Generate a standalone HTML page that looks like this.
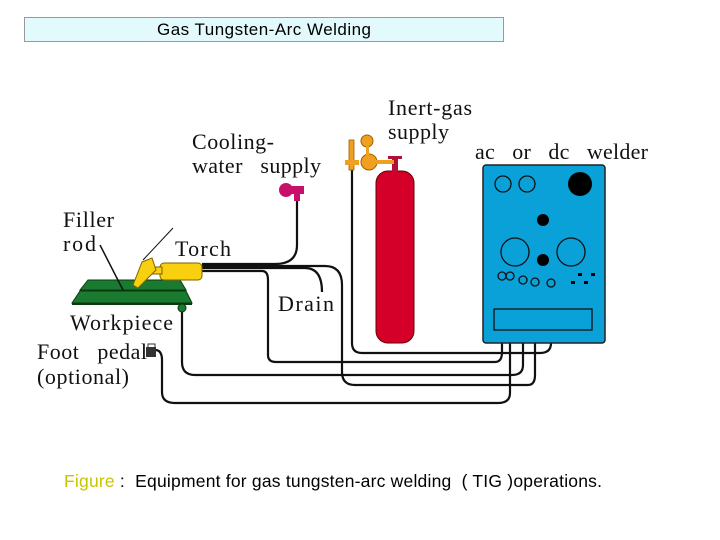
<!DOCTYPE html>
<html><head><meta charset="utf-8"><style>
body{margin:0;background:#fff;}
svg{display:block}
.s{font-family:"Liberation Serif",serif;font-size:22px;fill:#111;white-space:pre}
</style></head><body>
<svg width="720" height="540" viewBox="0 0 720 540" xmlns="http://www.w3.org/2000/svg">
<rect x="24.5" y="17.5" width="479" height="24" fill="#e2fafc" stroke="#999"/>
<text x="157" y="35" textLength="214" font-family="Liberation Sans,sans-serif" font-size="17" fill="#000">Gas Tungsten-Arc Welding</text>

<g fill="none" stroke="#111" stroke-width="2.2">
<path d="M297 200 V245 Q297 264 275 264 H202"/>
<path d="M202 268 H305 Q322 268 322 292"/>
<path d="M202 271 H262 Q268 271 268 280 V355 Q268 362 276 362 H495 Q502 362 502 352 V277"/>
<path d="M202 266 H325 Q342 266 342 285 V372 Q342 385 355 385 H528 Q535 385 535 375 V282"/>
<path d="M182 308 V362 Q182 375 195 375 H512 Q523 375 523 365 V282"/>
<path d="M155 350 Q162 350 162 360 V392 Q162 403 175 403 H498 Q510 403 510 393 V277"/>
<path d="M352 170 V343 Q352 353 362 353 H540 Q551 353 551 343 V283"/>
</g>

<rect x="483" y="165" width="122" height="178" rx="3" fill="#0aa0d8" stroke="#222" stroke-width="1.5"/>
<g fill="none" stroke="#111" stroke-width="1.3">
<circle cx="503" cy="184" r="8"/><circle cx="527" cy="184" r="8"/>
<circle cx="515" cy="252" r="14"/><circle cx="571" cy="252" r="14"/>
<rect x="494" y="309" width="98" height="21"/>
<circle cx="502" cy="276" r="4" fill="#0aa0d8"/><circle cx="510" cy="276" r="4" fill="#0aa0d8"/>
<circle cx="523" cy="280" r="4" fill="#0aa0d8"/><circle cx="535" cy="282" r="4" fill="#0aa0d8"/>
<circle cx="551" cy="283" r="4" fill="#0aa0d8"/>
</g>
<circle cx="580" cy="184" r="12" fill="#000"/>
<circle cx="543" cy="220" r="6" fill="#000"/><circle cx="543" cy="260" r="6" fill="#000"/>
<rect x="578" y="273" width="4" height="3" fill="#000"/><rect x="591" y="273" width="4" height="3" fill="#000"/>
<rect x="571" y="281" width="4" height="3" fill="#000"/><rect x="584" y="281" width="4" height="3" fill="#000"/>

<rect x="376" y="171" width="38" height="172" rx="12" fill="#d4002a" stroke="#600" stroke-width="1"/>
<rect x="392" y="158" width="6" height="14" fill="#b0103a"/>
<rect x="388" y="156" width="14" height="3" fill="#b0103a"/>
<rect x="349" y="140" width="5" height="30" fill="#f0a020" stroke="#a06000" stroke-width=".8"/>
<rect x="345" y="160" width="14" height="5" fill="#f0a020"/>
<circle cx="369" cy="162" r="8" fill="#f0a020" stroke="#a06000"/>
<circle cx="367" cy="141" r="6" fill="#f0a020" stroke="#a06000"/>
<rect x="366" y="146" width="3" height="9" fill="#f0a020"/>
<rect x="376" y="160" width="18" height="4" fill="#f0a020"/>
<circle cx="286" cy="190" r="7" fill="#c8106a"/>
<rect x="290" y="186" width="14" height="8" fill="#c8106a"/>
<rect x="294" y="194" width="6" height="7" fill="#c8106a"/>
<polygon points="80,290 88,280 180,280 186,290" fill="#1a7a30" stroke="#0a3a10"/>
<polygon points="72,303 80,291 186,291 192,303" fill="#1a7a30" stroke="#0a3a10"/>
<line x1="72" y1="304" x2="192" y2="304" stroke="#0a3a10" stroke-width="2"/>
<circle cx="182" cy="308" r="4" fill="#1a7a30" stroke="#0a3a10"/>
<line x1="100" y1="245" x2="123" y2="290" stroke="#111" stroke-width="1.5"/>
<line x1="143" y1="260" x2="173" y2="228" stroke="#111" stroke-width="1"/>
<rect x="160" y="263" width="42" height="17" rx="4" fill="#f8d010" stroke="#806000"/>
<rect x="148" y="267" width="14" height="7" fill="#f8d010" stroke="#806000"/>
<path d="M142 262 L152 258 L156 270 L138 288 L133 285 Z" fill="#f8d010" stroke="#806000"/>
<rect x="146" y="347" width="10" height="10" fill="#333"/>
<rect x="148" y="344" width="7" height="5" fill="none" stroke="#333"/>

<text class="s" x="192" y="149" textLength="82">Cooling-</text>
<text class="s" x="192" y="173" textLength="129" lengthAdjust="spacing">water   supply</text>
<text class="s" x="388" y="115" textLength="84">Inert-gas</text>
<text class="s" x="388" y="139" textLength="61">supply</text>
<text class="s" x="475" y="159" textLength="173" lengthAdjust="spacing">ac   or   dc   welder</text>
<text class="s" x="63" y="227" textLength="51">Filler</text>
<text class="s" x="63" y="251" textLength="33">rod</text>
<text class="s" x="175" y="256" textLength="56">Torch</text>
<text class="s" x="278" y="311" textLength="56">Drain</text>
<text class="s" x="70" y="330" textLength="103">Workpiece</text>
<text class="s" x="37" y="359" textLength="110" lengthAdjust="spacing">Foot   pedal</text>
<text class="s" x="37" y="384" textLength="92">(optional)</text>

<text x="64" y="487" textLength="538" lengthAdjust="spacing" font-family="Liberation Sans,sans-serif" font-size="17.5" fill="#000" style="white-space:pre"><tspan fill="#c8c400">Figure</tspan> :  Equipment for gas tungsten-arc welding  ( TIG )operations.</text>
</svg>
</body></html>
